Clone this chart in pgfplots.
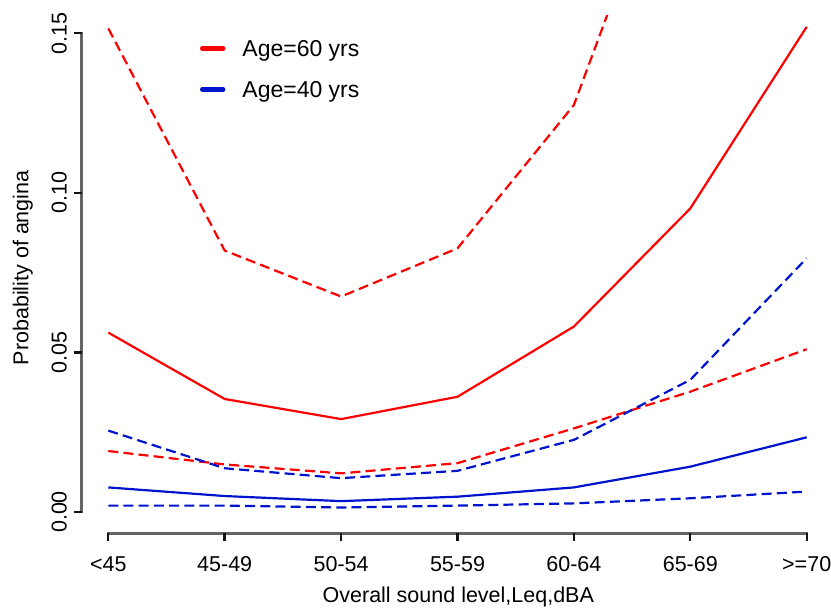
\documentclass[border=0pt]{standalone}
\usepackage{fontspec}
\setmainfont{Liberation Sans}
\usepackage{pgfplots}
\pgfplotsset{compat=1.18}
\usetikzlibrary{calc}
\definecolor{rred}{RGB}{255,0,0}
\definecolor{rblue}{RGB}{0,20,205}
\definecolor{axgray}{RGB}{100,100,100}
\definecolor{tickblack}{RGB}{20,20,20}
\begin{document}
\begin{tikzpicture}
\begin{axis}[
  x=58.2pt, y=1596pt,
  xmin=-0.23, xmax=6.24, ymin=-0.0067, ymax=0.1557,
  axis x line*=bottom, axis y line*=left,
  axis line style={draw=none},
  xtick={0,1,2,3,4,5,6},
  xticklabels={<45,45-49,50-54,55-59,60-64,65-69,>=70},
  ytick={0,0.05,0.1,0.15},
  yticklabels={0.00,0.05,0.10,0.15},
  tick align=outside, major tick length=3.2pt,
  tick style={draw=none},
  ticklabel style={font=\fontsize{10.75}{12}\selectfont},
  xticklabel style={anchor=base, inner sep=0pt, yshift=-16pt},
  yticklabel style={xshift=-4.3pt, rotate=90, anchor=base, inner sep=0pt},
  clip mode=individual,
  legend style={at={(axis cs:0.788,0.1489)}, anchor=north west, draw=none, fill=none,
    inner sep=0pt, outer sep=0pt, row sep=6.9pt, column sep=6.5pt,
    font=\fontsize{11.5}{13}\selectfont, cells={anchor=base west, inner sep=0pt}},
  legend image code/.code={\draw[line width=2.2pt, line cap=round] (1pt,4.1pt) -- (11.5pt,4.1pt);},
]
% Age=60 point estimate
\addplot[rred, line width=1.1pt] coordinates {(0,0.0562) (1,0.0354) (2,0.0291) (3,0.0361) (4,0.0581) (5,0.0951) (6,0.1520)};
\addlegendentry{Age=60 yrs}
% Age=40 point estimate
\addplot[rblue, line width=1.1pt] coordinates {(0,0.0077) (1,0.0050) (2,0.0034) (3,0.0048) (4,0.0077) (5,0.0142) (6,0.0234)};
\addlegendentry{Age=40 yrs}
% Age=60 confidence limits
\addplot[rred, line width=1.1pt, dash pattern=on 5pt off 2.6pt, forget plot] coordinates {(0,0.1515) (1,0.0819) (2,0.0675) (3,0.0826) (4,0.1275) (5,0.226) (6,0.30)};
\addplot[rred, line width=1.1pt, dash pattern=on 5pt off 2.6pt, forget plot] coordinates {(0,0.0191) (1,0.0149) (2,0.0121) (3,0.0153) (4,0.0262) (5,0.0377) (6,0.0510)};
% Age=40 confidence limits
\addplot[rblue, line width=1.1pt, dash pattern=on 5pt off 2.6pt, forget plot] coordinates {(0,0.0255) (1,0.0137) (2,0.0106) (3,0.0129) (4,0.0226) (5,0.0414) (6,0.0795)};
\addplot[rblue, line width=1.1pt, dash pattern=on 5pt off 2.6pt, forget plot] coordinates {(0,0.0020) (1,0.0020) (2,0.0014) (3,0.0020) (4,0.0027) (5,0.0043) (6,0.0064)};
% axis titles
\node[anchor=base, inner sep=0pt, font=\fontsize{10.75}{12}\selectfont] at (axis cs:3.007,-0.0285) {Overall sound level,Leq,dBA};
\node[rotate=90, anchor=base, inner sep=0pt, font=\fontsize{10.75}{12}\selectfont] at (axis cs:-0.687,0.0765) {Probability of angina};
\coordinate (X0) at (axis cs:0,-0.0067);
\coordinate (X6) at (axis cs:6,-0.0067);
\coordinate (Y0) at (axis cs:-0.23,0);
\coordinate (Y15) at (axis cs:-0.23,0.15);
\coordinate (BL) at (axis cs:-0.9304,-0.03133);
\coordinate (TR) at (axis cs:6.2088,0.1604);
\end{axis}
% R-style axis lines and ticks
\draw[axgray, line width=1.2pt, line cap=rect] (X0) -- (X6);
\draw[axgray, line width=1.2pt, line cap=rect] (Y0) -- (Y15);
\foreach \i in {0,...,6} {
  \draw[tickblack, line width=1.2pt] ($(X0)!\i/6!(X6)$) -- ++(0,-3.6pt);
}
\foreach \j in {0,1,2,3} {
  \draw[tickblack, line width=1.2pt] ($(Y0)!\j/3!(Y15)$) -- ++(-3.6pt,0);
}
\pgfresetboundingbox
\path[use as bounding box] (BL) rectangle (TR);
\end{tikzpicture}
\end{document}
